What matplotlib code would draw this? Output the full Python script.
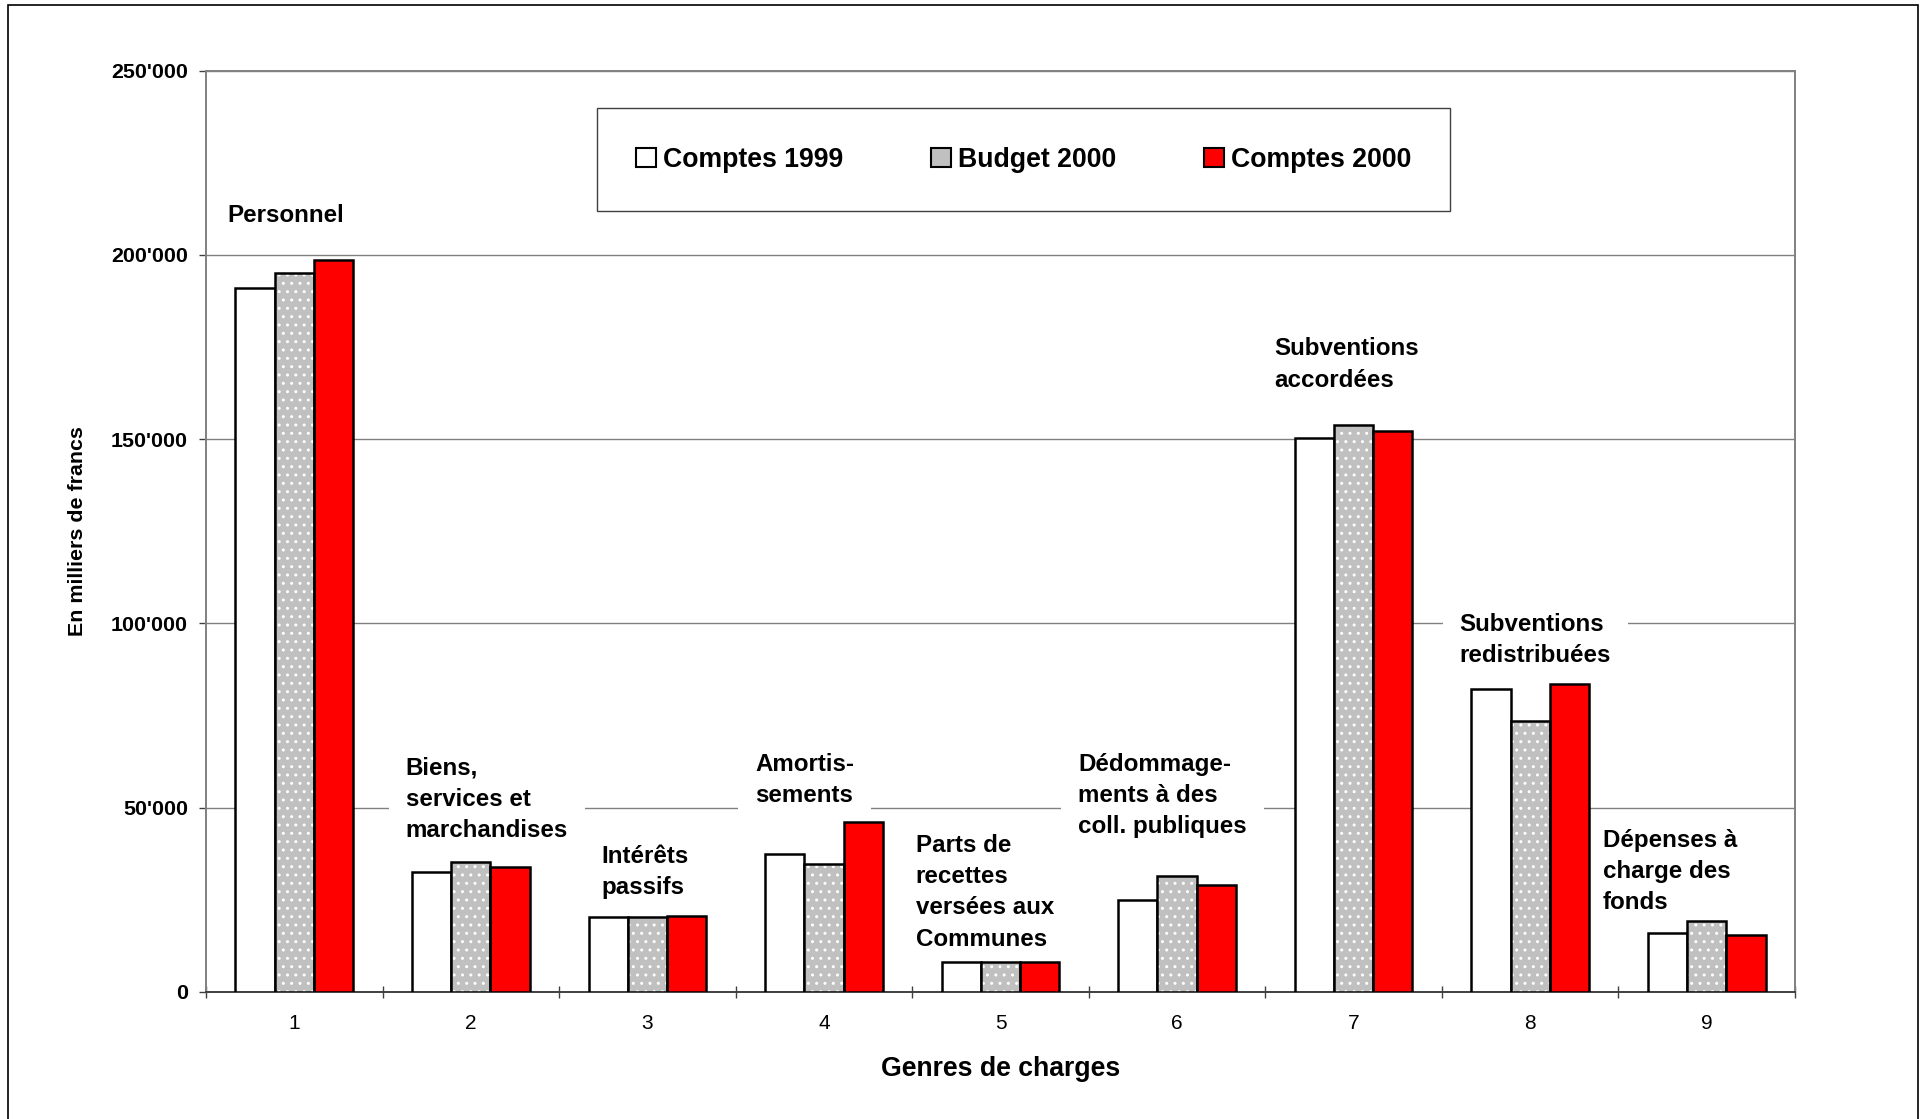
import matplotlib
matplotlib.use('Agg')
import matplotlib.pyplot as plt
import numpy as np
from matplotlib.patches import Patch, Rectangle
from matplotlib.ticker import FuncFormatter, MultipleLocator, FixedLocator

plt.rcParams['font.family'] = ['Liberation Sans', 'DejaVu Sans']

# data (milliers de francs)
genres = [1, 2, 3, 4, 5, 6, 7, 8, 9]
comptes_1999 = [191000, 32600, 20400, 37400, 8100, 24900, 150400, 82100, 16100]
budget_2000 = [195000, 35200, 20400, 34800, 8100, 31400, 153900, 73600, 19300]
comptes_2000 = [198600, 33800, 20600, 46000, 8100, 28900, 152200, 83700, 15400]
series_names = ['Comptes 1999', 'Budget 2000', 'Comptes 2000']

labels = ['Personnel', 'Biens,\nservices et\nmarchandises', 'Intérêts\npassifs',
          'Amortis-\nsements', 'Parts de\nrecettes\nversées aux\nCommunes',
          'Dédommage-\nments à des\ncoll. publiques', 'Subventions\naccordées',
          'Subventions\nredistribuées', 'Dépenses à\ncharge des\nfonds']
label_x = [0.62, 1.63, 2.74, 3.61, 4.52, 5.44, 6.55, 7.60, 8.41]
label_y = [210800, 52200, 32550, 57570, 27050, 53280, 170260, 95580, 32720]

fig = plt.figure(figsize=(19.27, 11.19), dpi=100)
ax = fig.add_axes([0.1069, 0.1135, 0.8246, 0.8233])

x = np.array(genres)
w = 1 / 4.5
ax.bar(x - w, comptes_1999, w, color='white', edgecolor='black', linewidth=1.8, zorder=3)
# gray bars with white dots: hatch drawn first, black outline on top
ax.bar(x, budget_2000, w, color='#c0c0c0', edgecolor='white', linewidth=0, hatch='..', zorder=3)
ax.bar(x, budget_2000, w, color='none', edgecolor='black', linewidth=1.8, zorder=4)
ax.bar(x + w, comptes_2000, w, color='#ff0000', edgecolor='black', linewidth=1.8, zorder=3)

for t, lx, ly in zip(labels, label_x, label_y):
    ax.text(lx, ly, t, fontsize=17.4, fontweight='bold', ha='left', va='center',
            linespacing=1.46, zorder=2,
            bbox=dict(facecolor='white', edgecolor='none', boxstyle='square,pad=0.7'))

ax.set_xlim(0.5, 9.5)
ax.set_ylim(0, 250000)
ax.yaxis.set_major_locator(MultipleLocator(50000))
ax.yaxis.set_major_formatter(FuncFormatter(lambda v, p: f"{int(v):,}".replace(',', "'")))
ax.grid(axis='y', color='#808080', linewidth=1.0, zorder=0)
ax.set_axisbelow(True)

ax.xaxis.set_major_locator(FixedLocator(np.arange(0.5, 10.5, 1)))
ax.xaxis.set_major_formatter(plt.NullFormatter())
ax.xaxis.set_minor_locator(FixedLocator(genres))
ax.set_xticklabels([str(g) for g in genres], minor=True)
ax.tick_params(axis='x', which='major', direction='inout', length=9, width=1, color='#404040')
ax.tick_params(axis='x', which='minor', length=0, pad=16, labelsize=15)
ax.tick_params(axis='y', which='major', direction='out', length=5, width=1, color='#404040',
               pad=8, labelsize=15.4)
for lab in ax.get_yticklabels():
    lab.set_fontweight('bold')

for s in ax.spines.values():
    s.set_color('#808080')
    s.set_linewidth(1.4)
ax.spines['bottom'].set_color('#404040')

ax.set_xlabel('Genres de charges', fontsize=19.2, fontweight='bold')
ax.set_ylabel('En milliers de francs', fontsize=15.4, fontweight='bold')
ax.xaxis.set_label_coords(0.5, -0.069)
ax.yaxis.set_label_coords(-0.075, 0.5)

handles = [Patch(facecolor='white', edgecolor='black', linewidth=1.5),
           Patch(facecolor='#c0c0c0', edgecolor='black', linewidth=1.5),
           Patch(facecolor='#ff0000', edgecolor='black', linewidth=1.5)]
leg = ax.legend(handles, series_names, loc='center', bbox_to_anchor=(0.5145, 0.9035),
                ncol=3, fancybox=False, framealpha=1, edgecolor='#404040',
                prop={'size': 19.2, 'weight': 'bold'}, handlelength=0.75, handleheight=0.75,
                handletextpad=0.25, columnspacing=3.3, borderpad=1.45)
leg.get_frame().set_linewidth(1.0)
leg.set_zorder(5)

fig.patches.append(Rectangle((0.00415, -0.01), 0.9912, 1.0055, transform=fig.transFigure,
                             fill=False, edgecolor='black', linewidth=1.2))

fig.savefig('out.png', dpi=100)
